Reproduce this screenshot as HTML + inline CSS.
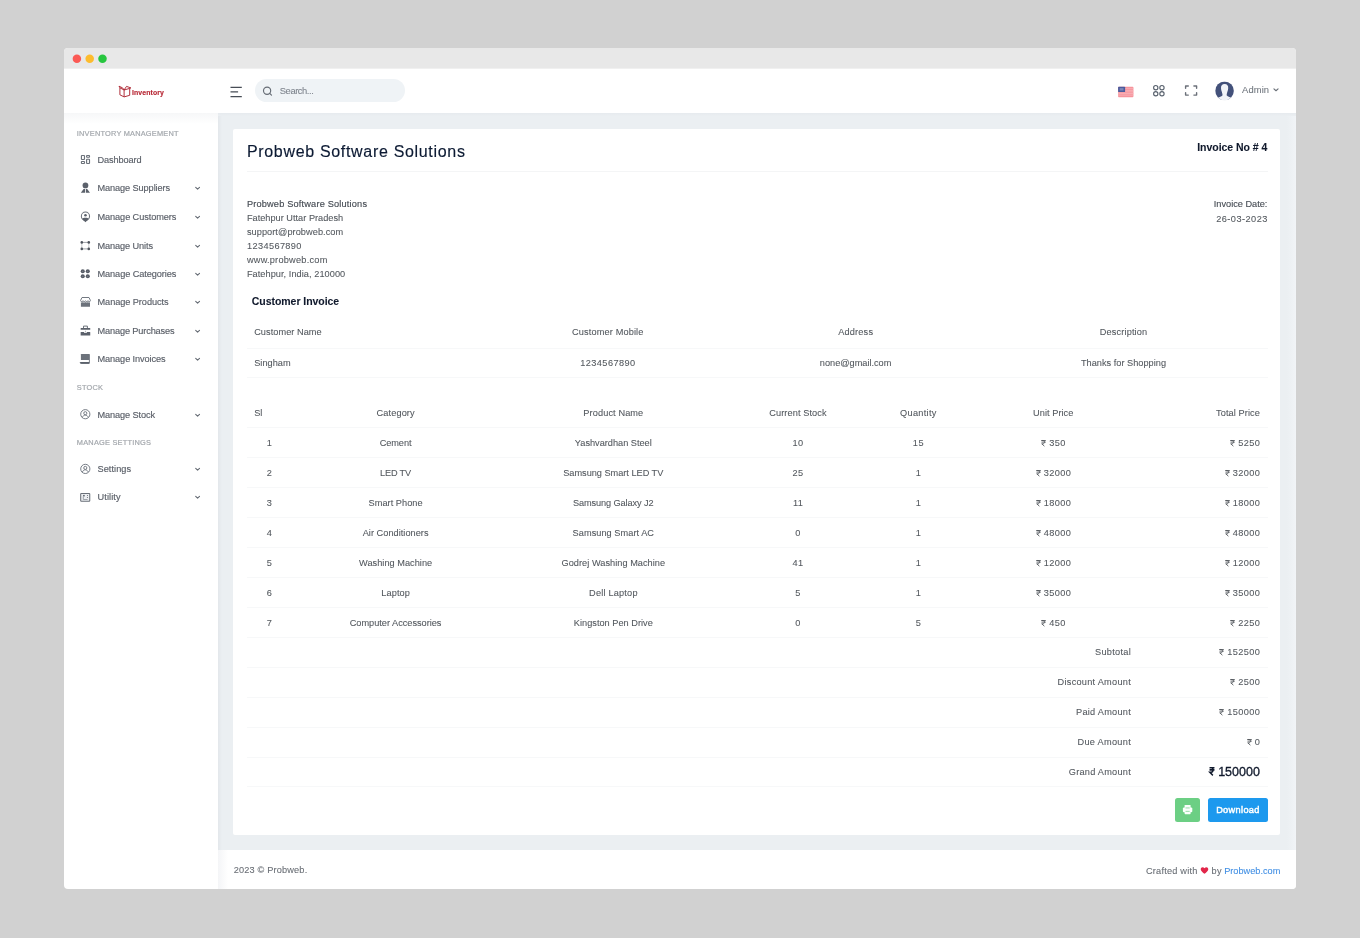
<!DOCTYPE html>
<html><head><meta charset="utf-8"><title>Invoice</title><style>html,body{margin:0;padding:0}body{width:1360px;height:938px;position:relative;overflow:hidden;background:#d1d1d1;font-family:'Liberation Sans',sans-serif}
.b{position:absolute;display:block}.t{position:absolute;white-space:nowrap;line-height:1;display:block}
.rs{display:inline-block;vertical-align:baseline;overflow:visible}</style></head><body>
<div class="b" style="left:64px;top:48px;width:1232px;height:841px;border-radius:4px;overflow:hidden;background:#fff">
<div class="b" style="left:-64px;top:-48px;width:1360px;height:938px;will-change:transform">
<div class="b" style="left:64px;top:48px;width:1232px;height:20px;background:#e8e8e8;"></div>
<div class="b" style="left:64px;top:68px;width:1232px;height:1px;background:#f0f0f0;"></div>
<div class="b" style="left:218px;top:113px;width:1078px;height:737px;background:#ebeff2;"></div>
<div class="b" style="left:218px;top:113px;width:4px;height:737px;background:linear-gradient(90deg,#e3e7eb,#ebeff2);"></div>
<div class="b" style="left:218px;top:113px;width:1078px;height:3px;background:linear-gradient(180deg,#e6eaee,#ebeff2);"></div>
<div class="b" style="left:1287px;top:116px;width:9px;height:734px;background:linear-gradient(90deg,#ebeff2,#f1f4f7);"></div>
<div class="b" style="left:64px;top:113px;width:154px;height:11px;background:linear-gradient(180deg,#f6f7f8,#ffffff);"></div>
<div class="b" style="left:232.8px;top:128.8px;width:1047.6px;height:706.2px;background:#fff;border-radius:2px;"></div>
<div class="b" style="left:218px;top:850px;width:1078px;height:39px;background:#fff;"></div>
<div class="b" style="left:218px;top:850px;width:10px;height:39px;background:linear-gradient(90deg,#f4f5f7,#ffffff);"></div>
<div class="b" style="left:255px;top:79.2px;width:149.8px;height:23.2px;background:#eff3f6;border-radius:12px;"></div>
<div class="b" style="left:246.9px;top:171px;width:1020.7px;height:1px;background:#f4f5f6;"></div>
<div class="b" style="left:246.9px;top:347.6px;width:1021.2px;height:1px;background:#f7f8f9;"></div>
<div class="b" style="left:246.9px;top:376.8px;width:1021.2px;height:1px;background:#f7f8f9;"></div>
<div class="b" style="left:246.9px;top:426.8px;width:1021.2px;height:1px;background:#f7f8f9;"></div>
<div class="b" style="left:246.9px;top:456.8px;width:1021.2px;height:1px;background:#f7f8f9;"></div>
<div class="b" style="left:246.9px;top:486.8px;width:1021.2px;height:1px;background:#f7f8f9;"></div>
<div class="b" style="left:246.9px;top:516.8px;width:1021.2px;height:1px;background:#f7f8f9;"></div>
<div class="b" style="left:246.9px;top:546.8px;width:1021.2px;height:1px;background:#f7f8f9;"></div>
<div class="b" style="left:246.9px;top:576.8px;width:1021.2px;height:1px;background:#f7f8f9;"></div>
<div class="b" style="left:246.9px;top:606.8px;width:1021.2px;height:1px;background:#f7f8f9;"></div>
<div class="b" style="left:246.9px;top:636.8px;width:1021.2px;height:1px;background:#f7f8f9;"></div>
<div class="b" style="left:246.9px;top:666.8px;width:1021.2px;height:1px;background:#f7f8f9;"></div>
<div class="b" style="left:246.9px;top:696.8px;width:1021.2px;height:1px;background:#f7f8f9;"></div>
<div class="b" style="left:246.9px;top:726.8px;width:1021.2px;height:1px;background:#f7f8f9;"></div>
<div class="b" style="left:246.9px;top:756.8px;width:1021.2px;height:1px;background:#f7f8f9;"></div>
<div class="b" style="left:246.9px;top:785.8px;width:1021.2px;height:1px;background:#f7f8f9;"></div>
<div class="b" style="left:1174.8px;top:797.6px;width:25.4px;height:24.8px;background:#6ccf84;border-radius:2.5px;"></div>
<div class="b" style="left:1207.9px;top:797.6px;width:60px;height:24.8px;background:#1d99ee;border-radius:2.5px;"></div>
<svg class="b" style="left:70px;top:52px;" width="41" height="15" viewBox="70.000 52.000 41.000 15.000" preserveAspectRatio="none"><circle cx="76.9" cy="58.8" r="4.25" fill="#fb5a55"/><circle cx="89.7" cy="58.8" r="4.25" fill="#fdbc2e"/><circle cx="102.5" cy="58.8" r="4.25" fill="#27c63f"/></svg>
<svg class="b" style="left:230px;top:86px;" width="14" height="13" viewBox="-0.300 0.000 14.000 13.000" preserveAspectRatio="none"><path d="M0.2 1.3h11.300M0.200 5.900h7.600M0.200 10.500h11.300" stroke="#474d56" stroke-width="1.25" fill="none"/></svg>
<svg class="b" style="left:262px;top:85px;" width="13" height="13" viewBox="-0.200 -0.800 13.000 13.000" preserveAspectRatio="none"><circle cx="4.9" cy="4.9" r="3.6" fill="none" stroke="#666c75" stroke-width="1.15"/><path d="M7.5 7.5l1.8 1.8" stroke="#666c75" stroke-width="1.15" stroke-linecap="round"/></svg>
<svg class="b" style="left:118px;top:85px;" width="16" height="15" viewBox="-0.300 -0.200 16.000 15.000" preserveAspectRatio="none"><g fill="none" stroke="#ad2531" stroke-width="0.95" stroke-linejoin="round"><path d="M1.6 2.6l4.2 2.2v6.9L1.6 9.6z"/><path d="M5.8 4.8l5.6-1.6v6.9l-5.6 1.6"/><path d="M1.6 2.6L0.7 1l3.6 1.7 1.5 2.1"/><path d="M5.8 4.8l2.4-3.6 4.4 1.5-1.2 0.5"/></g></svg>
<svg class="b" style="left:1118px;top:86px;" width="17" height="13" viewBox="-0.100 -0.700 17.000 13.000" preserveAspectRatio="none"><rect width="15.3" height="10.5" rx="0.8" fill="#f6949c"/><rect y="1.6" width="15.3" height="0.8" fill="#f9b4b9"/><rect y="3.2" width="15.3" height="0.8" fill="#f9b4b9"/><rect y="4.8" width="15.3" height="0.8" fill="#f9b4b9"/><rect y="6.4" width="15.3" height="0.8" fill="#f9b4b9"/><rect y="8.0" width="15.3" height="0.8" fill="#f9b4b9"/><rect width="7" height="5.4" rx="0.6" fill="#4a5a9c"/><rect x="1.6" y="1.4" width="3.8" height="2.4" fill="#7a86b8"/></svg>
<svg class="b" style="left:1152px;top:84px;" width="15" height="15" viewBox="-0.400 -0.400 15.000 15.000" preserveAspectRatio="none"><g fill="none" stroke="#58616d" stroke-width="1.12"><circle cx="3.350" cy="3.300" r="2.150"/><circle cx="9.550" cy="3.300" r="2.150"/><circle cx="3.350" cy="9.350" r="2.150"/><circle cx="9.550" cy="9.350" r="2.150"/></g></svg>
<svg class="b" style="left:1184px;top:85px;" width="15" height="13" viewBox="-0.600 0.000 15.000 13.000" preserveAspectRatio="none"><path d="M1 3.300V1h2.700M9.300 1h2.700v2.300M12 7.800v2.300H9.300M3.700 10.100H1V7.800" fill="none" stroke="#6b7079" stroke-width="1.4" stroke-linejoin="round" stroke-linecap="round"/></svg>
<svg class="b" style="left:1215px;top:81px;" width="20" height="21" viewBox="-0.200 -0.450 20.000 21.000" preserveAspectRatio="none"><defs><clipPath id="av"><circle cx="9.35" cy="9.35" r="9.35"/></clipPath></defs><g clip-path="url(#av)"><rect width="18.7" height="18.7" fill="#43517a"/><path d="M9.450 2.500C12 2.500 13.200 4.300 13 6.800C12.900 9 11.700 11 11.400 13.700C12.600 15.200 15 16.100 18.700 16.900V18.700H0V16.900C3.700 16.100 6.200 15.200 7.400 13.700C7.100 11 5.900 9 5.800 6.800C5.600 4.300 6.900 2.500 9.450 2.500Z" fill="#f2f4f8"/></g></svg>
<svg class="b" style="left:1273px;top:88px;" width="7" height="5" viewBox="-0.333 -0.235 7.778 5.882" preserveAspectRatio="none"><path d="M0.7 0.7L3 3l2.3-2.3" fill="none" stroke="#6a7078" stroke-width="1.25" stroke-linecap="round" stroke-linejoin="round"/></svg>
<svg class="b" style="left:194px;top:186px;" width="8" height="6" viewBox="-0.600 -0.500 8.000 6.000" preserveAspectRatio="none"><path d="M1.1 0.8L3 2.7l1.9-1.9" fill="none" stroke="#646a73" stroke-width="1.1" stroke-linecap="round" stroke-linejoin="round"/></svg>
<svg class="b" style="left:194px;top:215px;" width="8" height="6" viewBox="-0.600 -0.500 8.000 6.000" preserveAspectRatio="none"><path d="M1.1 0.8L3 2.7l1.9-1.9" fill="none" stroke="#646a73" stroke-width="1.1" stroke-linecap="round" stroke-linejoin="round"/></svg>
<svg class="b" style="left:194px;top:244px;" width="8" height="6" viewBox="-0.600 -0.500 8.000 6.000" preserveAspectRatio="none"><path d="M1.1 0.8L3 2.7l1.9-1.9" fill="none" stroke="#646a73" stroke-width="1.1" stroke-linecap="round" stroke-linejoin="round"/></svg>
<svg class="b" style="left:194px;top:272px;" width="8" height="6" viewBox="-0.600 -0.500 8.000 6.000" preserveAspectRatio="none"><path d="M1.1 0.8L3 2.7l1.9-1.9" fill="none" stroke="#646a73" stroke-width="1.1" stroke-linecap="round" stroke-linejoin="round"/></svg>
<svg class="b" style="left:194px;top:300px;" width="8" height="6" viewBox="-0.600 -0.500 8.000 6.000" preserveAspectRatio="none"><path d="M1.1 0.8L3 2.7l1.9-1.9" fill="none" stroke="#646a73" stroke-width="1.1" stroke-linecap="round" stroke-linejoin="round"/></svg>
<svg class="b" style="left:194px;top:329px;" width="8" height="6" viewBox="-0.600 -0.500 8.000 6.000" preserveAspectRatio="none"><path d="M1.1 0.8L3 2.7l1.9-1.9" fill="none" stroke="#646a73" stroke-width="1.1" stroke-linecap="round" stroke-linejoin="round"/></svg>
<svg class="b" style="left:194px;top:357px;" width="8" height="6" viewBox="-0.600 -0.500 8.000 6.000" preserveAspectRatio="none"><path d="M1.1 0.8L3 2.7l1.9-1.9" fill="none" stroke="#646a73" stroke-width="1.1" stroke-linecap="round" stroke-linejoin="round"/></svg>
<svg class="b" style="left:194px;top:413px;" width="8" height="6" viewBox="-0.600 -0.500 8.000 6.000" preserveAspectRatio="none"><path d="M1.1 0.8L3 2.7l1.9-1.9" fill="none" stroke="#646a73" stroke-width="1.1" stroke-linecap="round" stroke-linejoin="round"/></svg>
<svg class="b" style="left:194px;top:467px;" width="8" height="6" viewBox="-0.600 -0.500 8.000 6.000" preserveAspectRatio="none"><path d="M1.1 0.8L3 2.7l1.9-1.9" fill="none" stroke="#646a73" stroke-width="1.1" stroke-linecap="round" stroke-linejoin="round"/></svg>
<svg class="b" style="left:194px;top:495px;" width="8" height="6" viewBox="-0.600 -0.500 8.000 6.000" preserveAspectRatio="none"><path d="M1.1 0.8L3 2.7l1.9-1.9" fill="none" stroke="#646a73" stroke-width="1.1" stroke-linecap="round" stroke-linejoin="round"/></svg>
<svg class="b" style="left:76px;top:150px" width="20" height="360" viewBox="76 150 20 360"><g fill="none" stroke="#6c727b" stroke-width="1.15" stroke-linejoin="round"><rect x="81.42" y="155.5" width="3.05" height="3.95" rx="0.5"/><rect x="86.6" y="155.5" width="2.9" height="1.7" rx="0.4"/><rect x="81.42" y="161.5" width="3.05" height="1.95" rx="0.4"/><rect x="86.6" y="159.2" width="2.9" height="4.25" rx="0.5"/></g><g fill="#5b616b"><circle cx="85.45" cy="185.45" r="2.85"/><path d="M80.8 192.8L83.6 188.9h1.45v3.9zM90 192.800L87.200 188.900h-1.350v3.900z"/></g><circle cx="85.45" cy="216.2" r="4.1" fill="none" stroke="#6c727b" stroke-width="1.05"/><circle cx="85.45" cy="215.2" r="1.3" fill="#5b616b"/><path d="M82.2 218.3c1-0.900 5.500-0.900 6.500 0c-0.400 1.500-2 2.900-3.250 4c-1.250-1.100-2.850-2.500-3.250-4z" fill="#5b616b"/><path d="M81.8 242.4H88.800M81.800 248.900H88.800" stroke="#5b616b" stroke-width="0.9" opacity="0.65"/><path d="M81.800 242.400V248.900M88.800 242.400V248.900" stroke="#5b616b" stroke-width="0.8" opacity="0.4"/><g fill="#4d535c"><circle cx="81.8" cy="242.4" r="1.3"/><circle cx="88.8" cy="242.4" r="1.3"/><circle cx="81.8" cy="248.9" r="1.3"/><circle cx="88.8" cy="248.900" r="1.300"/></g><circle cx="82.76" cy="271.3" r="2.05" fill="#555b65"/><circle cx="82.76" cy="271.3" r="0.55" fill="#8b9098"/><circle cx="82.76" cy="276.3" r="2.05" fill="#555b65"/><circle cx="82.76" cy="276.3" r="0.55" fill="#8b9098"/><circle cx="87.78" cy="271.3" r="2.05" fill="#555b65"/><circle cx="87.78" cy="271.3" r="0.55" fill="#8b9098"/><circle cx="87.78" cy="276.3" r="2.05" fill="#555b65"/><circle cx="87.78" cy="276.3" r="0.55" fill="#8b9098"/><path d="M82 297.500H89L90.400 300.400c0 0.800-0.500 1.300-1.150 1.300s-1.150-0.500-1.250-1c-0.150 0.500-0.600 1-1.250 1s-1.100-0.500-1.250-1c-0.150 0.500-0.600 1-1.250 1s-1.100-0.500-1.250-1c-0.100 0.500-0.600 1-1.250 1s-1.150-0.500-1.150-1.300z" fill="none" stroke="#6c727b" stroke-width="0.95" stroke-linejoin="round"/><path d="M80.900 302.300c0.500 0.300 1.400 0.300 2-0.300c0.700 0.700 1.800 0.700 2.500 0c0.700 0.700 1.800 0.700 2.500 0c0.600 0.600 1.500 0.600 2.100 0.300V306.800H80.900z" fill="#6c727b"/><path d="M83.500 328V326.100h3.900V328" fill="none" stroke="#6c727b" stroke-width="1"/><rect x="80.650" y="327.900" width="9.600" height="1.900" rx="0.300" fill="#5b616b"/><rect x="80.650" y="332" width="9.600" height="3.600" rx="0.300" fill="#5b616b"/><circle cx="85.450" cy="331.200" r="0.550" fill="#6c727b"/><rect x="84" y="331.700" width="2.900" height="1.100" fill="#fff"/><rect x="80.900" y="354.100" width="8.950" height="5.950" rx="0.400" fill="#6c727b"/><path d="M89.400 360v3.300H81.700c-0.900 0-1.500-0.500-1.500-1.150" fill="none" stroke="#6c727b" stroke-width="0.900"/><rect x="80.100" y="361.900" width="9.200" height="1.850" rx="0.700" fill="#5b616b"/><g fill="none" stroke="#70767f" stroke-width="0.95"><circle cx="85.300" cy="414.2" r="4.600"/><circle cx="85.300" cy="413.20" r="1.550"/><path d="M82.300 417.50c0.600-1.600 1.700-2.400 3-2.400s2.400 0.800 3 2.400"/></g><g fill="none" stroke="#70767f" stroke-width="0.95"><circle cx="85.300" cy="468.9" r="4.600"/><circle cx="85.300" cy="467.90" r="1.550"/><path d="M82.300 472.20c0.600-1.600 1.700-2.400 3-2.400s2.400 0.800 3 2.400"/></g><rect x="80.700" y="493.400" width="9.050" height="7.900" rx="0.600" fill="#eef0f3" stroke="#6a7079" stroke-width="1.050"/><rect x="83.100" y="494.900" width="1.600" height="1.500" fill="#5b616b"/><path d="M83.300 496.400v3.100h4.300" fill="none" stroke="#8a8f97" stroke-width="0.800"/><circle cx="87.400" cy="495.500" r="0.550" fill="#5b616b"/><circle cx="87.400" cy="497.450" r="0.550" fill="#5b616b"/></svg>
<svg class="b" style="left:1182px;top:804px;" width="12" height="12" viewBox="-0.900 -0.900 12.000 12.000" preserveAspectRatio="none"><g fill="#fbfffc"><rect x="1.700" y="0" width="6" height="9.400" rx="0.700"/><rect x="0" y="2.500" width="9.400" height="4.900" rx="1.100"/></g><path d="M2.600 3.050h4.200M2.600 6.450h4.200" stroke="#6ccf84" stroke-width="0.700"/></svg>
<svg class="b" style="left:1200px;top:867px;" width="10" height="8" viewBox="-1.474 -0.424 21.053 16.970" preserveAspectRatio="none"><path d="M8 14C5 11.4 0 8 0 4.2 0 1.6 2 0 4 0c1.6 0 3 0.9 4 2.4C9 0.9 10.400 0 12 0c2 0 4 1.600 4 4.200C16 8 11 11.400 8 14z" fill="#e2264a"/></svg>
<span class="t" style="left:76.80px;top:130px;font-size:7.4px;color:#a4a8ad;letter-spacing:0.208px;-webkit-text-stroke:0.2px #a4a8ad;">INVENTORY MANAGEMENT</span>
<span class="t" style="left:76.80px;top:384px;font-size:7.4px;color:#a4a8ad;letter-spacing:0.218px;-webkit-text-stroke:0.2px #a4a8ad;">STOCK</span>
<span class="t" style="left:76.80px;top:439px;font-size:7.4px;color:#a4a8ad;letter-spacing:0.225px;-webkit-text-stroke:0.2px #a4a8ad;">MANAGE SETTINGS</span>
<span class="t" style="left:97.50px;top:156px;font-size:9.2px;color:#595e67;letter-spacing:-0.119px;-webkit-text-stroke:0.15px #595e67;">Dashboard</span>
<span class="t" style="left:97.50px;top:184px;font-size:9.2px;color:#595e67;letter-spacing:-0.098px;-webkit-text-stroke:0.15px #595e67;">Manage Suppliers</span>
<span class="t" style="left:97.50px;top:213px;font-size:9.2px;color:#595e67;letter-spacing:-0.091px;-webkit-text-stroke:0.15px #595e67;">Manage Customers</span>
<span class="t" style="left:97.50px;top:242px;font-size:9.2px;color:#595e67;letter-spacing:-0.099px;-webkit-text-stroke:0.15px #595e67;">Manage Units</span>
<span class="t" style="left:97.50px;top:270px;font-size:9.2px;color:#595e67;letter-spacing:-0.087px;-webkit-text-stroke:0.15px #595e67;">Manage Categories</span>
<span class="t" style="left:97.50px;top:298px;font-size:9.2px;color:#595e67;letter-spacing:-0.065px;-webkit-text-stroke:0.15px #595e67;">Manage Products</span>
<span class="t" style="left:97.50px;top:327px;font-size:9.2px;color:#595e67;letter-spacing:-0.138px;-webkit-text-stroke:0.15px #595e67;">Manage Purchases</span>
<span class="t" style="left:97.50px;top:355px;font-size:9.2px;color:#595e67;letter-spacing:-0.091px;-webkit-text-stroke:0.15px #595e67;">Manage Invoices</span>
<span class="t" style="left:97.50px;top:411px;font-size:9.2px;color:#595e67;letter-spacing:-0.112px;-webkit-text-stroke:0.15px #595e67;">Manage Stock</span>
<span class="t" style="left:97.50px;top:465px;font-size:9.2px;color:#595e67;letter-spacing:0.057px;-webkit-text-stroke:0.15px #595e67;">Settings</span>
<span class="t" style="left:97.50px;top:493px;font-size:9.2px;color:#595e67;letter-spacing:0.105px;-webkit-text-stroke:0.15px #595e67;">Utility</span>
<span class="t" style="left:131.90px;top:90px;font-size:6.9px;color:#b72835;font-weight:700;letter-spacing:0.123px;-webkit-text-stroke:0.15px #b72835;">Inventory</span>
<span class="t" style="left:279.80px;top:86px;font-size:9.4px;color:#7f858e;letter-spacing:-0.441px;-webkit-text-stroke:0.08px #7f858e;">Search...</span>
<span class="t" style="left:1242.10px;top:85px;font-size:9.4px;color:#6f757d;letter-spacing:0.105px;-webkit-text-stroke:0.08px #6f757d;">Admin</span>
<span class="t" style="left:246.90px;top:144px;font-size:16.0px;color:#0c1a33;letter-spacing:0.680px;-webkit-text-stroke:0.15px #0c1a33;">Probweb Software Solutions</span>
<span class="t" style="left:1197.20px;top:142px;font-size:10.5px;color:#10192c;font-weight:700;letter-spacing:-0.031px;-webkit-text-stroke:0.08px #10192c;">Invoice No # 4</span>
<span class="t" style="left:246.90px;top:200px;font-size:9.2px;color:#454b53;letter-spacing:0.187px;-webkit-text-stroke:0.15px #454b53;">Probweb Software Solutions</span>
<span class="t" style="left:246.90px;top:214px;font-size:9.2px;color:#53585e;letter-spacing:0.014px;-webkit-text-stroke:0.08px #53585e;">Fatehpur Uttar Pradesh</span>
<span class="t" style="left:246.90px;top:228px;font-size:9.2px;color:#53585e;letter-spacing:0.065px;-webkit-text-stroke:0.08px #53585e;">support@probweb.com</span>
<span class="t" style="left:246.90px;top:242px;font-size:9.2px;color:#53585e;letter-spacing:0.388px;-webkit-text-stroke:0.08px #53585e;">1234567890</span>
<span class="t" style="left:246.90px;top:256px;font-size:9.2px;color:#53585e;letter-spacing:0.235px;-webkit-text-stroke:0.08px #53585e;">www.probweb.com</span>
<span class="t" style="left:246.90px;top:270px;font-size:9.2px;color:#53585e;letter-spacing:0.056px;-webkit-text-stroke:0.08px #53585e;">Fatehpur, India, 210000</span>
<span class="t" style="left:1213.80px;top:200px;font-size:9.2px;color:#454b53;-webkit-text-stroke:0.12px #454b53;">Invoice Date:</span>
<span class="t" style="left:1216.20px;top:215px;font-size:9.2px;color:#53585e;letter-spacing:0.467px;-webkit-text-stroke:0.08px #53585e;">26-03-2023</span>
<span class="t" style="left:251.80px;top:296px;font-size:10.5px;color:#10192c;font-weight:700;letter-spacing:-0.047px;-webkit-text-stroke:0.08px #10192c;">Customer Invoice</span>
<span class="t" style="left:254.20px;top:328px;font-size:9.2px;color:#53585e;letter-spacing:0.051px;-webkit-text-stroke:0.08px #53585e;">Customer Name</span>
<span class="t" style="left:254.20px;top:359px;font-size:9.2px;color:#53585e;letter-spacing:0.022px;-webkit-text-stroke:0.08px #53585e;">Singham</span>
<span class="t" style="left:572.00px;top:328px;font-size:9.2px;color:#53585e;letter-spacing:0.139px;-webkit-text-stroke:0.08px #53585e;">Customer Mobile</span>
<span class="t" style="left:580.20px;top:359px;font-size:9.2px;color:#53585e;letter-spacing:0.432px;-webkit-text-stroke:0.08px #53585e;">1234567890</span>
<span class="t" style="left:838.20px;top:328px;font-size:9.2px;color:#53585e;letter-spacing:0.180px;-webkit-text-stroke:0.08px #53585e;">Address</span>
<span class="t" style="left:819.85px;top:359px;font-size:9.2px;color:#53585e;letter-spacing:-0.011px;-webkit-text-stroke:0.08px #53585e;">none@gmail.com</span>
<span class="t" style="left:1099.85px;top:328px;font-size:9.2px;color:#53585e;letter-spacing:0.133px;-webkit-text-stroke:0.08px #53585e;">Description</span>
<span class="t" style="left:1080.95px;top:359px;font-size:9.2px;color:#53585e;letter-spacing:0.017px;-webkit-text-stroke:0.08px #53585e;">Thanks for Shopping</span>
<span class="t" style="left:254.20px;top:409px;font-size:9.2px;color:#53585e;letter-spacing:0.028px;-webkit-text-stroke:0.08px #53585e;">Sl</span>
<span class="t" style="left:376.55px;top:409px;font-size:9.2px;color:#53585e;letter-spacing:0.117px;-webkit-text-stroke:0.08px #53585e;">Category</span>
<span class="t" style="left:583.35px;top:409px;font-size:9.2px;color:#53585e;letter-spacing:0.106px;-webkit-text-stroke:0.08px #53585e;">Product Name</span>
<span class="t" style="left:769.30px;top:409px;font-size:9.2px;color:#53585e;letter-spacing:0.086px;-webkit-text-stroke:0.08px #53585e;">Current Stock</span>
<span class="t" style="left:900.05px;top:409px;font-size:9.2px;color:#53585e;letter-spacing:0.297px;-webkit-text-stroke:0.08px #53585e;">Quantity</span>
<span class="t" style="left:1033.05px;top:409px;font-size:9.2px;color:#53585e;letter-spacing:0.052px;-webkit-text-stroke:0.08px #53585e;">Unit Price</span>
<span class="t" style="left:1216.10px;top:409px;font-size:9.2px;color:#53585e;letter-spacing:0.081px;-webkit-text-stroke:0.08px #53585e;">Total Price</span>
<span class="t" style="left:266.84px;top:439px;font-size:9.2px;color:#53585e;letter-spacing:0.420px;-webkit-text-stroke:0.08px #53585e;">1</span>
<span class="t" style="left:379.70px;top:439px;font-size:9.2px;color:#53585e;letter-spacing:-0.074px;-webkit-text-stroke:0.08px #53585e;">Cement</span>
<span class="t" style="left:574.85px;top:439px;font-size:9.2px;color:#53585e;letter-spacing:-0.004px;-webkit-text-stroke:0.08px #53585e;">Yashvardhan Steel</span>
<span class="t" style="left:792.57px;top:439px;font-size:9.2px;color:#53585e;letter-spacing:0.420px;-webkit-text-stroke:0.08px #53585e;">10</span>
<span class="t" style="left:912.87px;top:439px;font-size:9.2px;color:#53585e;letter-spacing:0.420px;-webkit-text-stroke:0.08px #53585e;">15</span>
<span class="t" style="left:266.84px;top:469px;font-size:9.2px;color:#53585e;letter-spacing:0.420px;-webkit-text-stroke:0.08px #53585e;">2</span>
<span class="t" style="left:380.00px;top:469px;font-size:9.2px;color:#53585e;letter-spacing:-0.160px;-webkit-text-stroke:0.08px #53585e;">LED TV</span>
<span class="t" style="left:563.25px;top:469px;font-size:9.2px;color:#53585e;letter-spacing:-0.017px;-webkit-text-stroke:0.08px #53585e;">Samsung Smart LED TV</span>
<span class="t" style="left:792.57px;top:469px;font-size:9.2px;color:#53585e;letter-spacing:0.420px;-webkit-text-stroke:0.08px #53585e;">25</span>
<span class="t" style="left:915.64px;top:469px;font-size:9.2px;color:#53585e;letter-spacing:0.420px;-webkit-text-stroke:0.08px #53585e;">1</span>
<span class="t" style="left:266.84px;top:499px;font-size:9.2px;color:#53585e;letter-spacing:0.420px;-webkit-text-stroke:0.08px #53585e;">3</span>
<span class="t" style="left:368.60px;top:499px;font-size:9.2px;color:#53585e;letter-spacing:0.037px;-webkit-text-stroke:0.08px #53585e;">Smart Phone</span>
<span class="t" style="left:573.00px;top:499px;font-size:9.2px;color:#53585e;letter-spacing:-0.101px;-webkit-text-stroke:0.08px #53585e;">Samsung Galaxy J2</span>
<span class="t" style="left:792.92px;top:499px;font-size:9.2px;color:#53585e;letter-spacing:0.420px;-webkit-text-stroke:0.08px #53585e;">11</span>
<span class="t" style="left:915.64px;top:499px;font-size:9.2px;color:#53585e;letter-spacing:0.420px;-webkit-text-stroke:0.08px #53585e;">1</span>
<span class="t" style="left:266.84px;top:529px;font-size:9.2px;color:#53585e;letter-spacing:0.420px;-webkit-text-stroke:0.08px #53585e;">4</span>
<span class="t" style="left:362.65px;top:529px;font-size:9.2px;color:#53585e;letter-spacing:0.035px;-webkit-text-stroke:0.08px #53585e;">Air Conditioners</span>
<span class="t" style="left:572.60px;top:529px;font-size:9.2px;color:#53585e;letter-spacing:0.048px;-webkit-text-stroke:0.08px #53585e;">Samsung Smart AC</span>
<span class="t" style="left:795.34px;top:529px;font-size:9.2px;color:#53585e;letter-spacing:0.420px;-webkit-text-stroke:0.08px #53585e;">0</span>
<span class="t" style="left:915.64px;top:529px;font-size:9.2px;color:#53585e;letter-spacing:0.420px;-webkit-text-stroke:0.08px #53585e;">1</span>
<span class="t" style="left:266.84px;top:559px;font-size:9.2px;color:#53585e;letter-spacing:0.420px;-webkit-text-stroke:0.08px #53585e;">5</span>
<span class="t" style="left:359.05px;top:559px;font-size:9.2px;color:#53585e;letter-spacing:0.029px;-webkit-text-stroke:0.08px #53585e;">Washing Machine</span>
<span class="t" style="left:561.50px;top:559px;font-size:9.2px;color:#53585e;letter-spacing:0.037px;-webkit-text-stroke:0.08px #53585e;">Godrej Washing Machine</span>
<span class="t" style="left:792.57px;top:559px;font-size:9.2px;color:#53585e;letter-spacing:0.420px;-webkit-text-stroke:0.08px #53585e;">41</span>
<span class="t" style="left:915.64px;top:559px;font-size:9.2px;color:#53585e;letter-spacing:0.420px;-webkit-text-stroke:0.08px #53585e;">1</span>
<span class="t" style="left:266.84px;top:589px;font-size:9.2px;color:#53585e;letter-spacing:0.420px;-webkit-text-stroke:0.08px #53585e;">6</span>
<span class="t" style="left:381.20px;top:589px;font-size:9.2px;color:#53585e;letter-spacing:0.138px;-webkit-text-stroke:0.08px #53585e;">Laptop</span>
<span class="t" style="left:589.10px;top:589px;font-size:9.2px;color:#53585e;letter-spacing:0.192px;-webkit-text-stroke:0.08px #53585e;">Dell Laptop</span>
<span class="t" style="left:795.34px;top:589px;font-size:9.2px;color:#53585e;letter-spacing:0.420px;-webkit-text-stroke:0.08px #53585e;">5</span>
<span class="t" style="left:915.64px;top:589px;font-size:9.2px;color:#53585e;letter-spacing:0.420px;-webkit-text-stroke:0.08px #53585e;">1</span>
<span class="t" style="left:266.84px;top:619px;font-size:9.2px;color:#53585e;letter-spacing:0.420px;-webkit-text-stroke:0.08px #53585e;">7</span>
<span class="t" style="left:349.75px;top:619px;font-size:9.2px;color:#53585e;letter-spacing:-0.012px;-webkit-text-stroke:0.08px #53585e;">Computer Accessories</span>
<span class="t" style="left:573.80px;top:619px;font-size:9.2px;color:#53585e;letter-spacing:0.020px;-webkit-text-stroke:0.08px #53585e;">Kingston Pen Drive</span>
<span class="t" style="left:795.34px;top:619px;font-size:9.2px;color:#53585e;letter-spacing:0.420px;-webkit-text-stroke:0.08px #53585e;">0</span>
<span class="t" style="left:915.64px;top:619px;font-size:9.2px;color:#53585e;letter-spacing:0.420px;-webkit-text-stroke:0.08px #53585e;">5</span>
<span class="t" style="left:1095.00px;top:648px;font-size:9.2px;color:#53585e;letter-spacing:0.283px;-webkit-text-stroke:0.08px #53585e;">Subtotal</span>
<span class="t" style="left:1057.60px;top:678px;font-size:9.2px;color:#53585e;letter-spacing:0.260px;-webkit-text-stroke:0.08px #53585e;">Discount Amount</span>
<span class="t" style="left:1076.10px;top:708px;font-size:9.2px;color:#53585e;letter-spacing:0.249px;-webkit-text-stroke:0.08px #53585e;">Paid Amount</span>
<span class="t" style="left:1077.50px;top:738px;font-size:9.2px;color:#53585e;letter-spacing:0.293px;-webkit-text-stroke:0.08px #53585e;">Due Amount</span>
<span class="t" style="left:1068.80px;top:768px;font-size:9.2px;color:#53585e;letter-spacing:0.241px;-webkit-text-stroke:0.08px #53585e;">Grand Amount</span>
<span class="t" style="left:1216.15px;top:806px;font-size:9.2px;color:#ffffff;letter-spacing:0.349px;-webkit-text-stroke:0.45px #ffffff;">Download</span>
<span class="t" style="left:233.80px;top:866px;font-size:9.2px;color:#686d74;letter-spacing:0.161px;-webkit-text-stroke:0.08px #686d74;">2023 © Probweb.</span>
<span class="t" style="left:1146.00px;top:867px;font-size:9.2px;color:#686d74;letter-spacing:0.206px;-webkit-text-stroke:0.08px #686d74;">Crafted with</span>
<span class="t" style="left:1211.60px;top:867px;font-size:9.2px;color:#686d74;letter-spacing:0.181px;-webkit-text-stroke:0.08px #686d74;">by</span>
<span class="t" style="left:1224.20px;top:867px;font-size:9.2px;color:#3f8ee4;letter-spacing:-0.007px;-webkit-text-stroke:0.08px #3f8ee4;">Probweb.com</span>
<span class="t" style="left:1041.35px;top:439px;font-size:9.2px;color:#53585e;letter-spacing:0.420px;-webkit-text-stroke:0.08px #53585e;"><svg class="rs" width="5.15" height="6.44" viewBox="0 0 10 12.5" preserveAspectRatio="none" style="margin-right:2.76px"><path d="M0.9 1h8.4M0.9 4.100h8.400M0.900 1h2.600c4.500 0 4.500 6.400 0 6.400H1.400l5.200 4.600" fill="none" stroke="currentColor" stroke-width="1.75" stroke-linejoin="miter" stroke-linecap="butt"/></svg>350</span>
<span class="t" style="left:1230.37px;top:439px;font-size:9.2px;color:#53585e;letter-spacing:0.420px;-webkit-text-stroke:0.08px #53585e;"><svg class="rs" width="5.15" height="6.44" viewBox="0 0 10 12.5" preserveAspectRatio="none" style="margin-right:2.76px"><path d="M0.9 1h8.4M0.9 4.100h8.400M0.900 1h2.600c4.500 0 4.500 6.400 0 6.400H1.400l5.200 4.600" fill="none" stroke="currentColor" stroke-width="1.75" stroke-linejoin="miter" stroke-linecap="butt"/></svg>5250</span>
<span class="t" style="left:1035.82px;top:469px;font-size:9.2px;color:#53585e;letter-spacing:0.420px;-webkit-text-stroke:0.08px #53585e;"><svg class="rs" width="5.15" height="6.44" viewBox="0 0 10 12.5" preserveAspectRatio="none" style="margin-right:2.76px"><path d="M0.9 1h8.4M0.9 4.100h8.400M0.900 1h2.600c4.500 0 4.500 6.400 0 6.400H1.400l5.200 4.600" fill="none" stroke="currentColor" stroke-width="1.75" stroke-linejoin="miter" stroke-linecap="butt"/></svg>32000</span>
<span class="t" style="left:1224.85px;top:469px;font-size:9.2px;color:#53585e;letter-spacing:0.420px;-webkit-text-stroke:0.08px #53585e;"><svg class="rs" width="5.15" height="6.44" viewBox="0 0 10 12.5" preserveAspectRatio="none" style="margin-right:2.76px"><path d="M0.9 1h8.4M0.9 4.100h8.400M0.900 1h2.600c4.500 0 4.500 6.400 0 6.400H1.400l5.200 4.600" fill="none" stroke="currentColor" stroke-width="1.75" stroke-linejoin="miter" stroke-linecap="butt"/></svg>32000</span>
<span class="t" style="left:1035.82px;top:499px;font-size:9.2px;color:#53585e;letter-spacing:0.420px;-webkit-text-stroke:0.08px #53585e;"><svg class="rs" width="5.15" height="6.44" viewBox="0 0 10 12.5" preserveAspectRatio="none" style="margin-right:2.76px"><path d="M0.9 1h8.4M0.9 4.100h8.400M0.900 1h2.600c4.500 0 4.500 6.400 0 6.400H1.400l5.200 4.600" fill="none" stroke="currentColor" stroke-width="1.75" stroke-linejoin="miter" stroke-linecap="butt"/></svg>18000</span>
<span class="t" style="left:1224.85px;top:499px;font-size:9.2px;color:#53585e;letter-spacing:0.420px;-webkit-text-stroke:0.08px #53585e;"><svg class="rs" width="5.15" height="6.44" viewBox="0 0 10 12.5" preserveAspectRatio="none" style="margin-right:2.76px"><path d="M0.9 1h8.4M0.9 4.100h8.400M0.900 1h2.600c4.500 0 4.500 6.400 0 6.400H1.400l5.200 4.600" fill="none" stroke="currentColor" stroke-width="1.75" stroke-linejoin="miter" stroke-linecap="butt"/></svg>18000</span>
<span class="t" style="left:1035.82px;top:529px;font-size:9.2px;color:#53585e;letter-spacing:0.420px;-webkit-text-stroke:0.08px #53585e;"><svg class="rs" width="5.15" height="6.44" viewBox="0 0 10 12.5" preserveAspectRatio="none" style="margin-right:2.76px"><path d="M0.9 1h8.4M0.9 4.100h8.400M0.900 1h2.600c4.500 0 4.500 6.400 0 6.400H1.400l5.200 4.600" fill="none" stroke="currentColor" stroke-width="1.75" stroke-linejoin="miter" stroke-linecap="butt"/></svg>48000</span>
<span class="t" style="left:1224.85px;top:529px;font-size:9.2px;color:#53585e;letter-spacing:0.420px;-webkit-text-stroke:0.08px #53585e;"><svg class="rs" width="5.15" height="6.44" viewBox="0 0 10 12.5" preserveAspectRatio="none" style="margin-right:2.76px"><path d="M0.9 1h8.4M0.9 4.100h8.400M0.900 1h2.600c4.500 0 4.500 6.400 0 6.400H1.400l5.200 4.600" fill="none" stroke="currentColor" stroke-width="1.75" stroke-linejoin="miter" stroke-linecap="butt"/></svg>48000</span>
<span class="t" style="left:1035.82px;top:559px;font-size:9.2px;color:#53585e;letter-spacing:0.420px;-webkit-text-stroke:0.08px #53585e;"><svg class="rs" width="5.15" height="6.44" viewBox="0 0 10 12.5" preserveAspectRatio="none" style="margin-right:2.76px"><path d="M0.9 1h8.4M0.9 4.100h8.400M0.900 1h2.600c4.500 0 4.500 6.400 0 6.400H1.400l5.200 4.600" fill="none" stroke="currentColor" stroke-width="1.75" stroke-linejoin="miter" stroke-linecap="butt"/></svg>12000</span>
<span class="t" style="left:1224.85px;top:559px;font-size:9.2px;color:#53585e;letter-spacing:0.420px;-webkit-text-stroke:0.08px #53585e;"><svg class="rs" width="5.15" height="6.44" viewBox="0 0 10 12.5" preserveAspectRatio="none" style="margin-right:2.76px"><path d="M0.9 1h8.4M0.9 4.100h8.400M0.900 1h2.600c4.500 0 4.500 6.400 0 6.400H1.400l5.200 4.600" fill="none" stroke="currentColor" stroke-width="1.75" stroke-linejoin="miter" stroke-linecap="butt"/></svg>12000</span>
<span class="t" style="left:1035.82px;top:589px;font-size:9.2px;color:#53585e;letter-spacing:0.420px;-webkit-text-stroke:0.08px #53585e;"><svg class="rs" width="5.15" height="6.44" viewBox="0 0 10 12.5" preserveAspectRatio="none" style="margin-right:2.76px"><path d="M0.9 1h8.4M0.9 4.100h8.400M0.900 1h2.600c4.500 0 4.500 6.400 0 6.400H1.400l5.200 4.600" fill="none" stroke="currentColor" stroke-width="1.75" stroke-linejoin="miter" stroke-linecap="butt"/></svg>35000</span>
<span class="t" style="left:1224.85px;top:589px;font-size:9.2px;color:#53585e;letter-spacing:0.420px;-webkit-text-stroke:0.08px #53585e;"><svg class="rs" width="5.15" height="6.44" viewBox="0 0 10 12.5" preserveAspectRatio="none" style="margin-right:2.76px"><path d="M0.9 1h8.4M0.9 4.100h8.400M0.900 1h2.600c4.500 0 4.500 6.400 0 6.400H1.400l5.200 4.600" fill="none" stroke="currentColor" stroke-width="1.75" stroke-linejoin="miter" stroke-linecap="butt"/></svg>35000</span>
<span class="t" style="left:1041.35px;top:619px;font-size:9.2px;color:#53585e;letter-spacing:0.420px;-webkit-text-stroke:0.08px #53585e;"><svg class="rs" width="5.15" height="6.44" viewBox="0 0 10 12.5" preserveAspectRatio="none" style="margin-right:2.76px"><path d="M0.9 1h8.4M0.9 4.100h8.400M0.900 1h2.600c4.500 0 4.500 6.400 0 6.400H1.400l5.200 4.600" fill="none" stroke="currentColor" stroke-width="1.75" stroke-linejoin="miter" stroke-linecap="butt"/></svg>450</span>
<span class="t" style="left:1230.37px;top:619px;font-size:9.2px;color:#53585e;letter-spacing:0.420px;-webkit-text-stroke:0.08px #53585e;"><svg class="rs" width="5.15" height="6.44" viewBox="0 0 10 12.5" preserveAspectRatio="none" style="margin-right:2.76px"><path d="M0.9 1h8.4M0.9 4.100h8.400M0.900 1h2.600c4.500 0 4.500 6.400 0 6.400H1.400l5.200 4.600" fill="none" stroke="currentColor" stroke-width="1.75" stroke-linejoin="miter" stroke-linecap="butt"/></svg>2250</span>
<span class="t" style="left:1219.32px;top:648px;font-size:9.2px;color:#53585e;letter-spacing:0.420px;-webkit-text-stroke:0.08px #53585e;"><svg class="rs" width="5.15" height="6.44" viewBox="0 0 10 12.5" preserveAspectRatio="none" style="margin-right:2.76px"><path d="M0.9 1h8.4M0.9 4.100h8.400M0.900 1h2.600c4.500 0 4.500 6.400 0 6.400H1.400l5.200 4.600" fill="none" stroke="currentColor" stroke-width="1.75" stroke-linejoin="miter" stroke-linecap="butt"/></svg>152500</span>
<span class="t" style="left:1230.37px;top:678px;font-size:9.2px;color:#53585e;letter-spacing:0.420px;-webkit-text-stroke:0.08px #53585e;"><svg class="rs" width="5.15" height="6.44" viewBox="0 0 10 12.5" preserveAspectRatio="none" style="margin-right:2.76px"><path d="M0.9 1h8.4M0.9 4.100h8.400M0.900 1h2.600c4.500 0 4.500 6.400 0 6.400H1.400l5.200 4.600" fill="none" stroke="currentColor" stroke-width="1.75" stroke-linejoin="miter" stroke-linecap="butt"/></svg>2500</span>
<span class="t" style="left:1219.32px;top:708px;font-size:9.2px;color:#53585e;letter-spacing:0.420px;-webkit-text-stroke:0.08px #53585e;"><svg class="rs" width="5.15" height="6.44" viewBox="0 0 10 12.5" preserveAspectRatio="none" style="margin-right:2.76px"><path d="M0.9 1h8.4M0.9 4.100h8.400M0.900 1h2.600c4.500 0 4.500 6.400 0 6.400H1.400l5.200 4.600" fill="none" stroke="currentColor" stroke-width="1.75" stroke-linejoin="miter" stroke-linecap="butt"/></svg>150000</span>
<span class="t" style="left:1246.96px;top:738px;font-size:9.2px;color:#53585e;letter-spacing:0.420px;-webkit-text-stroke:0.08px #53585e;"><svg class="rs" width="5.15" height="6.44" viewBox="0 0 10 12.5" preserveAspectRatio="none" style="margin-right:2.76px"><path d="M0.9 1h8.4M0.9 4.100h8.400M0.900 1h2.600c4.500 0 4.500 6.400 0 6.400H1.400l5.200 4.600" fill="none" stroke="currentColor" stroke-width="1.75" stroke-linejoin="miter" stroke-linecap="butt"/></svg>0</span>
<span class="t" style="left:1208.56px;top:766px;font-size:12.5px;color:#10192c;-webkit-text-stroke:0.32px #10192c;"><svg class="rs" width="5.88" height="8.75" viewBox="0 0 10 12.5" preserveAspectRatio="none" style="margin-right:3.75px"><path d="M0.9 1h8.4M0.9 4.100h8.400M0.900 1h2.600c4.500 0 4.500 6.400 0 6.400H1.400l5.200 4.600" fill="none" stroke="currentColor" stroke-width="2.3" stroke-linejoin="miter" stroke-linecap="butt"/></svg>150000</span>
</div></div>
</body></html>
